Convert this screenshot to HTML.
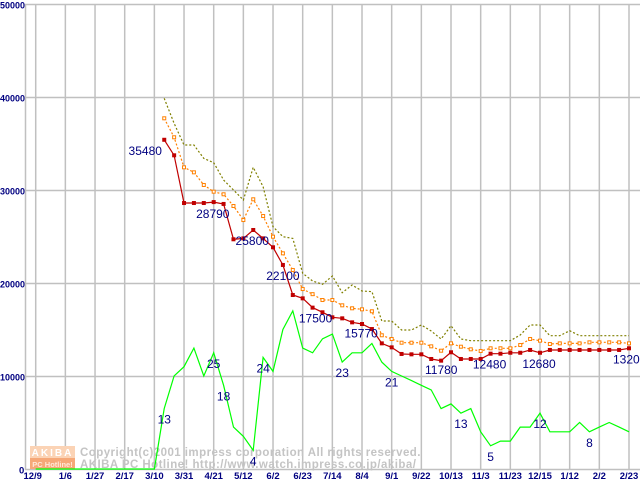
<!DOCTYPE html>
<html><head><meta charset="utf-8"><style>
html,body{margin:0;padding:0;background:#fff;}
svg{display:block;}
text{font-family:"Liberation Sans",sans-serif;}
</style></head><body>
<svg id="chart" width="640" height="480" viewBox="0 0 640 480" xmlns="http://www.w3.org/2000/svg">
<g id="grid"></g>
<g id="watermark">
  <rect x="30" y="446" width="45" height="12" fill="#fbd3b5"/>
  <rect x="30" y="458" width="45" height="11" fill="#f6a878"/>
  <text x="52.5" y="456" text-anchor="middle" font-size="10" font-weight="bold" fill="#ffffff" letter-spacing="2">AKIBA</text>
  <text x="52.5" y="467" text-anchor="middle" font-size="7.5" font-weight="bold" fill="#ffe8d8">PC Hotline!</text>
  <text x="80" y="456" font-family="Liberation Mono, monospace" font-size="11.5" font-weight="bold" fill="#c4c4c4" letter-spacing="0.45">Copyright(c)2001 impress corporation All rights reserved.</text>
  <text x="80" y="468" font-family="Liberation Mono, monospace" font-size="11.5" font-weight="bold" fill="#c4c4c4" letter-spacing="0.45">AKIBA PC Hotline!  http://www.watch.impress.co.jp/akiba/</text>
</g>
<g id="series"></g>
<g id="labels"></g>
</svg>
<script>
const xTickLabels = ["12/9","1/6","1/27","2/17","3/10","3/31","4/21","5/12","6/2","6/23","7/14","8/4","9/1","9/22","10/13","11/3","11/23","12/15","1/12","2/2","2/23"];
const yTicks = [0,10000,20000,30000,40000,50000];
const startWeek = 13;
const lowPrice = [35400,33730,28600,28600,28600,28700,28500,24700,24800,25700,24800,23840,21940,18710,18350,17350,16850,16310,16200,15770,15590,15050,13510,13080,12370,12330,12330,11830,11650,12550,11830,11830,11830,12400,12400,12500,12500,12800,12500,12800,12800,12800,12800,12800,12800,12800,12800,12980];
const avgPrice = [37710,35670,32440,31900,30540,29820,29540,28280,26770,29000,27200,24980,23190,21400,19350,18800,18170,18170,17600,17280,17170,16960,14380,13980,13580,13580,13580,13190,12720,13510,13150,12870,12690,12980,12980,12980,13330,13980,13800,13440,13510,13510,13510,13620,13620,13620,13620,13510];
const highPrice = [39860,37170,34840,34840,33400,32940,31080,30000,28920,32440,30350,26050,24980,24800,21040,20220,19860,20750,18960,19780,19140,19070,15910,15910,14950,14950,15480,14840,13980,15410,13980,13800,13800,13800,13800,13800,14410,15480,15480,14330,14330,14870,14330,14330,14330,14330,14330,14330];
const shopCount = [0,0,0,0,0,0,0,0,0,0,0,0,0,13,20,22,26,20,25,18,9,7,4,24,21,30,34,26,25,28,29,23,25,25,27,23,21,20,19,18,17,13,14,12,13,8,5,6,6,9,9,12,8,8,8,10,8,9,10,9,8];
const priceLabelWeeks = [13,17,22,25,28,32,40,46,51,60];
const priceLabelText = ["35480","28790","25800","22100","17500","15770","11780","12480","12680","13200"];
const priceLabelDx = [-19,9,-1,0,3,9,10,-1,-1,3];
const countLabelWeeks = [13,18,19,23,22,31,36,43,46,51,56];
const countLabelText = ["13","25","18","24","4","23","21","13","5","12","8"];

const NS = "http://www.w3.org/2000/svg";
const X0 = 35.7, WEEK = 29.665/3, Y0 = 469, PY = 0.0093, COUNT_SCALE = 500;
function xw(k){ return X0 + k*WEEK; }
function yv(v){ return Y0 - v*PY; }
function mk(tag, attrs, parent){ const e = document.createElementNS(NS, tag); for (const a in attrs) e.setAttribute(a, attrs[a]); parent.appendChild(e); return e; }

const grid = document.getElementById('grid');
const series = document.getElementById('series');
const labels = document.getElementById('labels');

yTicks.forEach((t) => {
  const y = Math.round(yv(t)) + 0.5;
  if (t > 0) {
    const l = mk('line', {x1:25, x2:640, y1:y, y2:y, stroke:'#c0c0c0', 'stroke-width':1.5}, grid);
    
    
  }
  const attrs = {x: t===0 ? 19 : 0, y: y+4, 'font-size': 9.5, 'font-weight':'bold', fill:'#000080'};
  if (t > 0) { attrs.textLength = 25; attrs.lengthAdjust = 'spacingAndGlyphs'; }
  const tx = mk('text', attrs, grid);
  tx.textContent = String(t);
  
  
});
xTickLabels.forEach((lab, i) => {
  const x = xw(i*3);
  const l = mk('line', {x1:x, x2:x, y1:4, y2:469, stroke:'#c0c0c0', 'stroke-width':1.5}, grid);
  
  
  const tx = mk('text', {x: i===0 ? x-3 : x, y: 479, 'text-anchor':'middle', 'font-size': 9.5, 'font-weight':'bold', fill:'#000080'}, grid);
  tx.textContent = lab;
  
  
});
const ax = mk('line', {x1:25.5, x2:25.5, y1:4, y2:470, stroke:'#c0c0c0', 'stroke-width':1.5}, grid);


const bx = mk('line', {x1:25, x2:640, y1:469.5, y2:469.5, stroke:'#c0c0c0', 'stroke-width':1.5}, grid);



function pts(arr, off, scale){ return arr.map((v,i)=> xw(i+off).toFixed(1)+','+yv(v*scale).toFixed(1)).join(' '); }

const gl = mk('polyline', {points: pts(shopCount,0,COUNT_SCALE), fill:'none', stroke:'#00ff00', 'stroke-width':1.2}, series);



const hl = mk('polyline', {points: pts(highPrice,startWeek,1), fill:'none', stroke:'#808000', 'stroke-width':1.2, 'stroke-dasharray':'2,2'}, series);



const al = mk('polyline', {points: pts(avgPrice,startWeek,1), fill:'none', stroke:'#ff8000', 'stroke-width':1.2, 'stroke-dasharray':'2,2'}, series);


avgPrice.forEach((v,i) => {
  const r = mk('rect', {x: xw(i+startWeek)-1.5, y: yv(v)-1.5, width:3, height:3, fill:'#fff', stroke:'#ff8000', 'stroke-width':1}, series);
  
  
});

const rl = mk('polyline', {points: pts(lowPrice,startWeek,1), fill:'none', stroke:'#c00000', 'stroke-width':1.2}, series);


lowPrice.forEach((v,i) => {
  const r = mk('rect', {x: xw(i+startWeek)-2, y: yv(v)-2, width:4, height:4, fill:'#c00000'}, series);
  
  
});

priceLabelWeeks.forEach((k, j) => {
  const v = lowPrice[k-startWeek];
  const t = mk('text', {x: xw(k)+priceLabelDx[j], y: yv(v)+15, 'text-anchor': k===60 ? 'start' : 'middle', 'font-size':12, fill:'#000080'}, labels);
  if (k===60) t.setAttribute('x', xw(k)-16);
  t.textContent = priceLabelText[j];
  
  
});
countLabelWeeks.forEach((k, j) => {
  const v = shopCount[k];
  const t = mk('text', {x: xw(k), y: yv(v*COUNT_SCALE)+15, 'text-anchor':'middle', 'font-size':12, fill:'#000080'}, labels);
  t.textContent = countLabelText[j];
  
  
});
</script>
</body></html>
